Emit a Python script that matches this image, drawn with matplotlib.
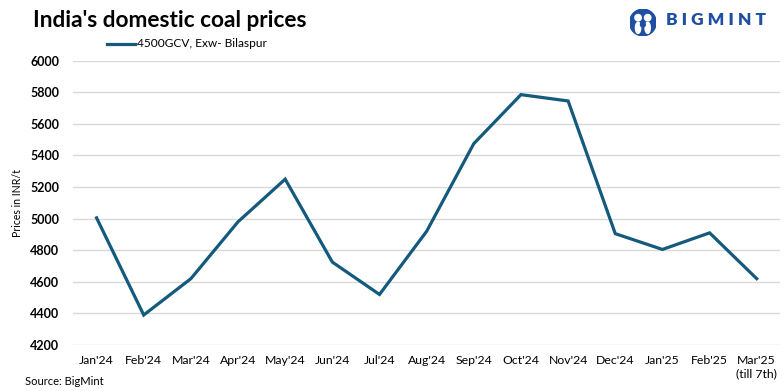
import matplotlib
matplotlib.use('Agg')
import matplotlib.pyplot as plt
from matplotlib.patches import Circle, Ellipse

plt.rcParams['font.family'] = ['Lato', 'DejaVu Sans']

months = ["Jan'24", "Feb'24", "Mar'24", "Apr'24", "May'24", "Jun'24", "Jul'24", "Aug'24",
          "Sep'24", "Oct'24", "Nov'24", "Dec'24", "Jan'25", "Feb'25", "Mar'25\n(till 7th)"]
prices = [5005, 4390, 4620, 4980, 5250, 4725, 4520, 4920,
          5475, 5785, 5745, 4905, 4805, 4910, 4620]
series_name = '4500GCV, Exw- Bilaspur'
yticks = list(range(4200, 6001, 200))

line_color = '#145a7c'
brand_blue = '#1f4fa3'

fig = plt.figure(figsize=(7.84, 3.91), dpi=100)
ax = fig.add_axes([0.0931, 0.1176, 0.9022, 0.7272])

x = list(range(len(months)))
ax.plot(x, prices, color=line_color, lw=2.3, solid_joinstyle='miter', zorder=3)

ax.set_xlim(-0.5, len(months) - 0.5)
ax.set_ylim(4200, 6000)
ax.set_yticks(yticks)
ax.set_yticklabels([str(v) for v in yticks], fontsize=9, fontweight='bold')
ax.set_xticks(x)
ax.set_xticklabels(months, fontsize=8.8, va='top', linespacing=1.25)
ax.tick_params(length=0)
ax.tick_params(axis='y', pad=10)
ax.tick_params(axis='x', pad=7)
ax.grid(axis='y', color='#d9d9d9', lw=1)
ax.set_axisbelow(True)
for s in ax.spines.values():
    s.set_visible(False)
ax.set_ylabel('Prices in INR/t', fontsize=7.6, labelpad=5)

# title, legend, source
fig.text(0.042, 0.948, "India's domestic coal prices", fontsize=16.3, fontweight='bold',
         va='center', ha='left')
fig.lines.append(plt.Line2D([0.137, 0.172], [0.888, 0.888], color=line_color, lw=2.3,
                            transform=fig.transFigure))
fig.text(0.175, 0.888, series_name, fontsize=8.6, va='center', ha='left')
fig.text(0.032, 0.025, 'Source: BigMint', fontsize=8, va='center', ha='left')

# logo
lax = fig.add_axes([0.803, 0.90, 0.034, 0.085])
lax.set_xlim(0, 1)
lax.set_ylim(0, 1)
lax.set_aspect('equal')
lax.axis('off')
lax.add_patch(Circle((0.5, 0.5), 0.5, color=brand_blue))
lax.add_patch(Circle((0.32, 0.68), 0.12, color='white'))
lax.add_patch(Circle((0.68, 0.68), 0.12, color='white'))
lax.add_patch(Ellipse((0.32, 0.3), 0.2, 0.42, color='white'))
lax.add_patch(Ellipse((0.68, 0.3), 0.2, 0.42, color='white'))
lax.add_patch(Circle((0.5, 0.42), 0.09, color=brand_blue))
fig.text(0.849, 0.948, 'B I G M I N T', fontsize=12.5, fontweight='heavy', color=brand_blue,
         va='center', ha='left')

fig.savefig('out.png', dpi=100)
